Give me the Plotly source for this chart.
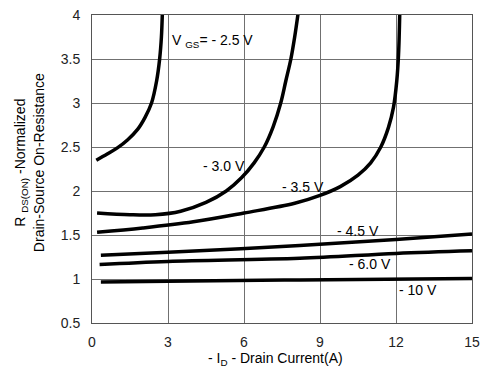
import plotly.graph_objects as go

# Data
vgs_labels = ["- 2.5 V", "- 3.0 V", "- 3.5 V", "- 4.5 V", "- 6.0 V", "- 10 V"]

id_25 = [0.17, 0.6, 1.0, 1.4, 1.8, 2.1, 2.35, 2.55, 2.67, 2.74, 2.78]
r_25 = [2.35, 2.42, 2.49, 2.58, 2.70, 2.84, 3.0, 3.25, 3.5, 3.75, 4.05]

id_30 = [0.2, 1.5, 2.5, 3.5, 4.5, 5.3, 5.9, 6.4, 6.8, 7.15, 7.45, 7.65, 7.85, 8.0, 8.15]
r_30 = [1.75, 1.73, 1.73, 1.77, 1.87, 2.0, 2.15, 2.32, 2.5, 2.73, 3.0, 3.25, 3.5, 3.75, 4.05]

id_35 = [0.2, 2.0, 4.0, 6.0, 8.0, 9.0, 9.8, 10.5, 11.0, 11.4, 11.7, 11.9, 12.03, 12.1, 12.15]
r_35 = [1.53, 1.58, 1.65, 1.75, 1.86, 1.95, 2.05, 2.18, 2.32, 2.5, 2.72, 2.95, 3.25, 3.55, 4.05]

id_45 = [0.35, 3.0, 8.2, 12.0, 15.0]
r_45 = [1.27, 1.305, 1.38, 1.45, 1.51]

id_60 = [0.3, 3.0, 8.2, 12.0, 15.0]
r_60 = [1.165, 1.2, 1.235, 1.29, 1.32]

id_10 = [0.35, 3.0, 8.2, 15.0]
r_10 = [0.965, 0.975, 0.99, 1.005]

x_ticks = [0, 3, 6, 9, 12, 15]
y_ticks = [0.5, 1, 1.5, 2, 2.5, 3, 3.5, 4]
y_tick_text = ["0.5", "1", "1.5", "2", "2.5", "3", "3.5", "4"]

# label anchor positions (data coords)
label_x = [3.09, 5.2, 8.34, 10.51, 10.99, 12.86]
label_y = [3.70, 2.28, 2.05, 1.546, 1.176, 0.88]

series = [(id_25, r_25), (id_30, r_30), (id_35, r_35),
          (id_45, r_45), (id_60, r_60), (id_10, r_10)]

FONT = "Liberation Sans, Arial, sans-serif"

fig = go.Figure()
for (xs, ys), name in zip(series, vgs_labels):
    fig.add_trace(go.Scatter(
        x=xs, y=ys, mode="lines", name=name,
        line=dict(color="black", width=3.5, shape="spline", smoothing=1.0),
        showlegend=False, hoverinfo="skip"))

texts = ["V <sub>GS</sub>= " + vgs_labels[0]] + vgs_labels[1:]
for i, (t, lx, ly) in enumerate(zip(texts, label_x, label_y)):
    fig.add_annotation(
        x=lx, y=ly, xref="x", yref="y", text=t, showarrow=False,
        xanchor="left" if i == 0 else "center", yanchor="middle",
        font=dict(family=FONT, size=14, color="black"))

fig.add_annotation(
    xref="paper", yref="paper", x=-0.165, y=0.52, textangle=-90,
    text="R <sub>DS(ON)</sub> -Normalized<br>Drain-Source On-Resistance",
    showarrow=False, xanchor="center", yanchor="middle",
    font=dict(family=FONT, size=14, color="black"))

fig.add_annotation(
    xref="paper", yref="paper", x=0.482, y=-0.118,
    text="- I<sub>D</sub> - Drain Current(A)",
    showarrow=False, xanchor="center", yanchor="middle",
    font=dict(family=FONT, size=14, color="black"))

fig.update_layout(
    width=494, height=373,
    margin=dict(l=92, r=22, t=7, b=50),
    paper_bgcolor="white", plot_bgcolor="white",
    font=dict(family=FONT, size=14, color="black"),
)
fig.update_xaxes(
    range=[0, 15], tickvals=x_ticks, showgrid=True, gridcolor="#707070",
    gridwidth=1, showline=True, linecolor="#555555", linewidth=1,
    mirror=True, zeroline=False, ticks="", ticklabelstandoff=6,
    ticklabeloverflow="allow",
    tickfont=dict(family=FONT, size=14, color="#222"))
fig.update_yaxes(
    range=[0.5, 4.0001], tickvals=y_ticks, ticktext=y_tick_text, showgrid=True,
    gridcolor="#707070", gridwidth=1, showline=True, linecolor="#555555",
    linewidth=1, mirror=True, zeroline=False, ticks="", ticklabelstandoff=8,
    ticklabeloverflow="allow",
    tickfont=dict(family=FONT, size=14, color="#222"))

fig.write_html("out.html")
